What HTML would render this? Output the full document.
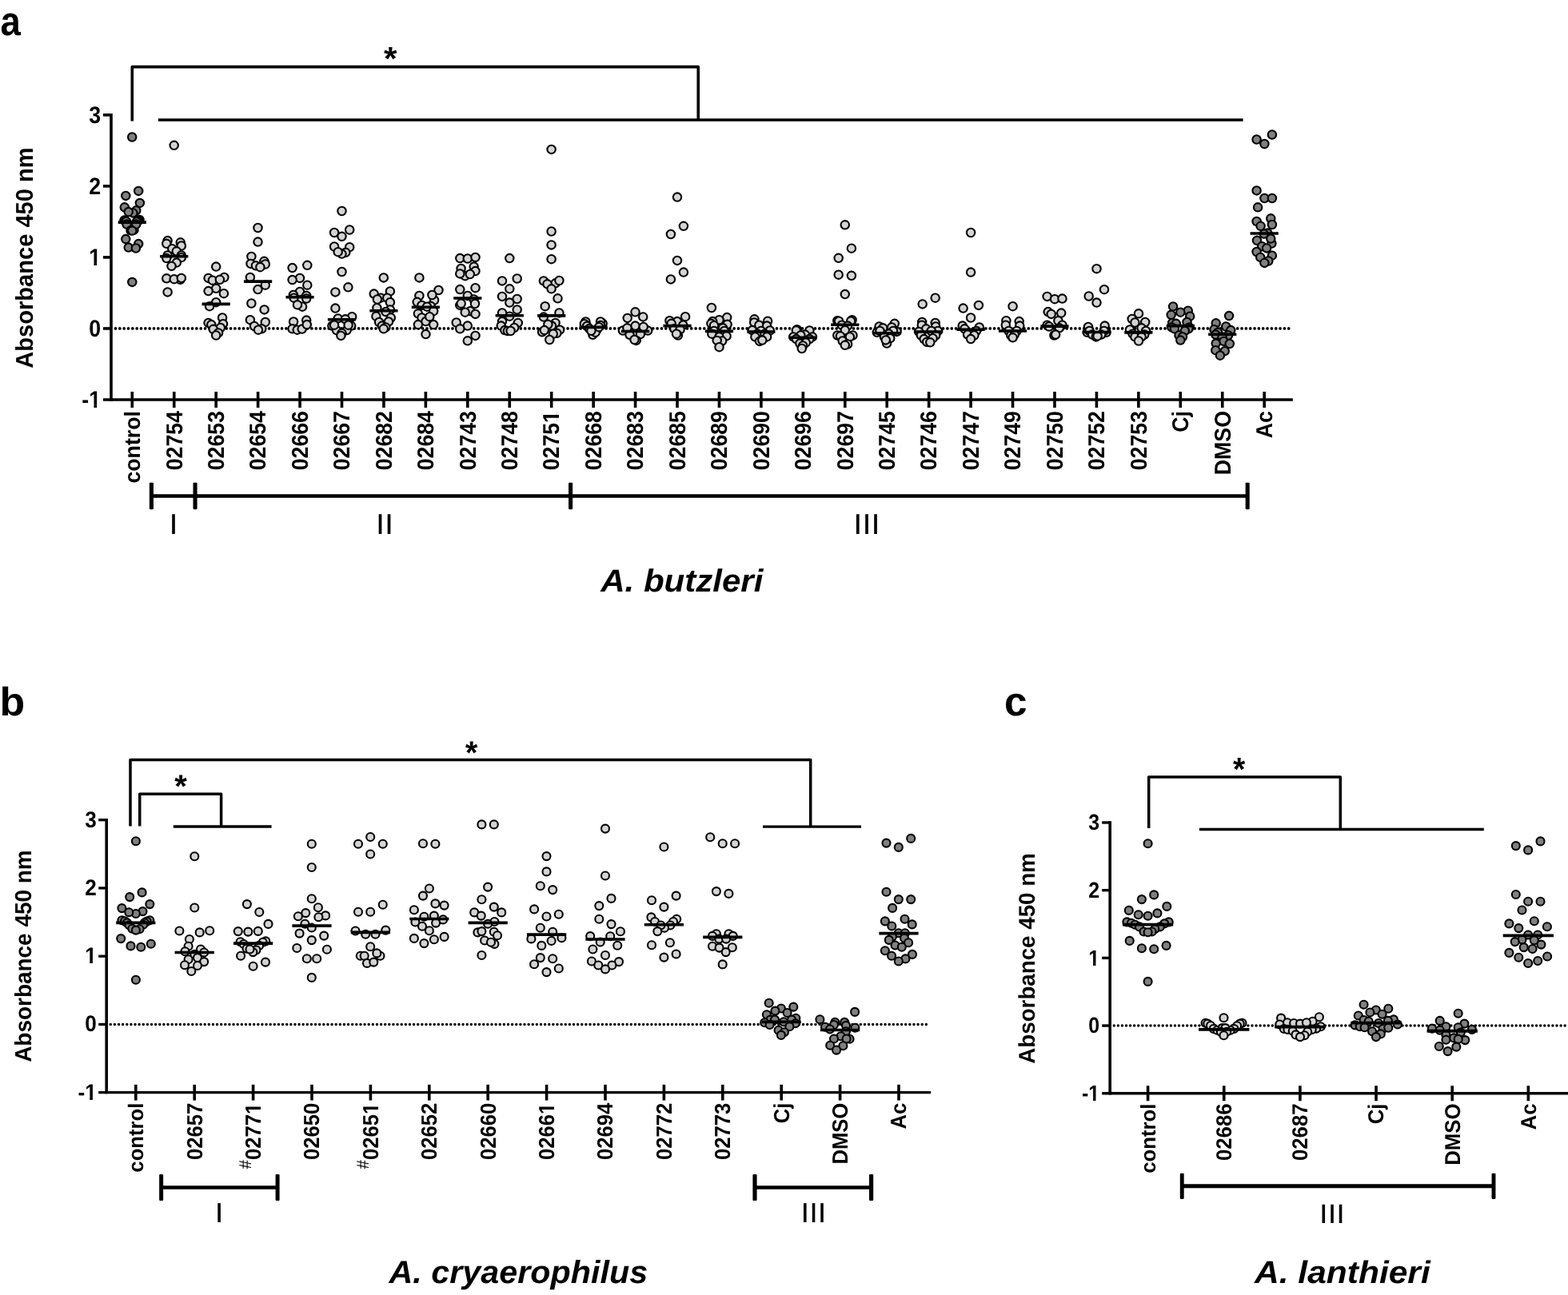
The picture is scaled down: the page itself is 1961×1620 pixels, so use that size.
<!DOCTYPE html>
<html lang="en">
<head>
<meta charset="utf-8">
<title>Absorbance 450 nm scatter plots</title>
<style>
html,body{margin:0;padding:0;background:#fff;}
svg{display:block;}
text{font-kerning:none;text-rendering:geometricPrecision;white-space:pre;}
</style>
</head>
<body>
<svg xmlns="http://www.w3.org/2000/svg" width="1961" height="1620" viewBox="0 0 1961 1620" font-family="'Liberation Sans', Arial, Helvetica, sans-serif" font-weight="bold" fill="#000" stroke="none">
<rect x="0" y="0" width="1961" height="1620" fill="#fff"/>
<g id="panel-a">
<g stroke="#000">
<line x1="144.5" y1="410.95" x2="1612" y2="410.95" stroke-width="3.75" stroke-linecap="round" stroke-dasharray="0 5.3354"/>
<line x1="139" y1="142" x2="139" y2="501.8" stroke-width="3.6"/>
<line x1="129" y1="500" x2="1616.85" y2="500" stroke-width="3.6"/>
<line x1="129" y1="143.8" x2="139" y2="143.8" stroke-width="3.6"/>
<line x1="129" y1="232.85" x2="139" y2="232.85" stroke-width="3.6"/>
<line x1="129" y1="321.9" x2="139" y2="321.9" stroke-width="3.6"/>
<line x1="129" y1="410.95" x2="139" y2="410.95" stroke-width="3.6"/>
<line x1="165.3" y1="490" x2="165.3" y2="510" stroke-width="3.6"/>
<line x1="217.74" y1="490" x2="217.74" y2="510" stroke-width="3.6"/>
<line x1="270.18" y1="490" x2="270.18" y2="510" stroke-width="3.6"/>
<line x1="322.62" y1="490" x2="322.62" y2="510" stroke-width="3.6"/>
<line x1="375.06" y1="490" x2="375.06" y2="510" stroke-width="3.6"/>
<line x1="427.5" y1="490" x2="427.5" y2="510" stroke-width="3.6"/>
<line x1="479.94" y1="490" x2="479.94" y2="510" stroke-width="3.6"/>
<line x1="532.38" y1="490" x2="532.38" y2="510" stroke-width="3.6"/>
<line x1="584.82" y1="490" x2="584.82" y2="510" stroke-width="3.6"/>
<line x1="637.26" y1="490" x2="637.26" y2="510" stroke-width="3.6"/>
<line x1="689.7" y1="490" x2="689.7" y2="510" stroke-width="3.6"/>
<line x1="742.14" y1="490" x2="742.14" y2="510" stroke-width="3.6"/>
<line x1="794.58" y1="490" x2="794.58" y2="510" stroke-width="3.6"/>
<line x1="847.02" y1="490" x2="847.02" y2="510" stroke-width="3.6"/>
<line x1="899.46" y1="490" x2="899.46" y2="510" stroke-width="3.6"/>
<line x1="951.9" y1="490" x2="951.9" y2="510" stroke-width="3.6"/>
<line x1="1004.34" y1="490" x2="1004.34" y2="510" stroke-width="3.6"/>
<line x1="1056.78" y1="490" x2="1056.78" y2="510" stroke-width="3.6"/>
<line x1="1109.22" y1="490" x2="1109.22" y2="510" stroke-width="3.6"/>
<line x1="1161.66" y1="490" x2="1161.66" y2="510" stroke-width="3.6"/>
<line x1="1214.1" y1="490" x2="1214.1" y2="510" stroke-width="3.6"/>
<line x1="1266.54" y1="490" x2="1266.54" y2="510" stroke-width="3.6"/>
<line x1="1318.98" y1="490" x2="1318.98" y2="510" stroke-width="3.6"/>
<line x1="1371.42" y1="490" x2="1371.42" y2="510" stroke-width="3.6"/>
<line x1="1423.86" y1="490" x2="1423.86" y2="510" stroke-width="3.6"/>
<line x1="1476.3" y1="490" x2="1476.3" y2="510" stroke-width="3.6"/>
<line x1="1528.74" y1="490" x2="1528.74" y2="510" stroke-width="3.6"/>
<line x1="1581.18" y1="490" x2="1581.18" y2="510" stroke-width="3.6"/>
</g>
<g stroke="#000" stroke-width="2.1">
<g fill="#808080"><circle cx="165.2" cy="171.5" r="5.2"/><circle cx="173.2" cy="238.9" r="5.2"/><circle cx="157.3" cy="244.9" r="5.2"/><circle cx="174.9" cy="253.9" r="5.2"/><circle cx="155.8" cy="259.3" r="5.2"/><circle cx="170.3" cy="263.3" r="5.2"/><circle cx="166.4" cy="266.4" r="5.2"/><circle cx="160.7" cy="265.1" r="5.2"/><circle cx="174.5" cy="275.0" r="5.2"/><circle cx="173.4" cy="275.6" r="5.2"/><circle cx="172.1" cy="276.1" r="5.2"/><circle cx="155.4" cy="275.6" r="5.2"/><circle cx="156.7" cy="276.1" r="5.2"/><circle cx="158.0" cy="276.9" r="5.2"/><circle cx="158.5" cy="280.5" r="5.2"/><circle cx="167.5" cy="287.7" r="5.2"/><circle cx="163.5" cy="288.3" r="5.2"/><circle cx="170.8" cy="277.4" r="5.2"/><circle cx="170.3" cy="280.5" r="5.2"/><circle cx="165.3" cy="288.6" r="5.2"/><circle cx="157.3" cy="299.1" r="5.2"/><circle cx="173.2" cy="305.1" r="5.2"/><circle cx="160.7" cy="309.6" r="5.2"/><circle cx="169.9" cy="310.5" r="5.2"/><circle cx="165.3" cy="352.9" r="5.2"/></g>
<g fill="#d4d4d4"><circle cx="217.7" cy="181.8" r="5.2"/><circle cx="209.6" cy="301.1" r="5.2"/><circle cx="225.7" cy="303.3" r="5.2"/><circle cx="208.3" cy="304.8" r="5.2"/><circle cx="226.8" cy="307.5" r="5.2"/><circle cx="215.3" cy="311.2" r="5.2"/><circle cx="220.8" cy="314.3" r="5.2"/><circle cx="209.6" cy="319.5" r="5.2"/><circle cx="226.8" cy="319.5" r="5.2"/><circle cx="208.3" cy="323.1" r="5.2"/><circle cx="226.8" cy="322.2" r="5.2"/><circle cx="220.8" cy="328.6" r="5.2"/><circle cx="214.5" cy="332.9" r="5.2"/><circle cx="208.3" cy="348.3" r="5.2"/><circle cx="225.4" cy="349.8" r="5.2"/><circle cx="217.7" cy="349.2" r="5.2"/><circle cx="226.8" cy="347.9" r="5.2"/><circle cx="209.6" cy="365.4" r="5.2"/></g>
<g fill="#d4d4d4"><circle cx="270.2" cy="333.6" r="5.2"/><circle cx="280.4" cy="347.0" r="5.2"/><circle cx="260.6" cy="347.9" r="5.2"/><circle cx="265.8" cy="350.7" r="5.2"/><circle cx="274.9" cy="349.8" r="5.2"/><circle cx="270.2" cy="360.8" r="5.2"/><circle cx="260.6" cy="364.1" r="5.2"/><circle cx="279.9" cy="367.2" r="5.2"/><circle cx="270.2" cy="378.2" r="5.2"/><circle cx="262.1" cy="383.2" r="5.2"/><circle cx="278.1" cy="397.5" r="5.2"/><circle cx="260.6" cy="403.9" r="5.2"/><circle cx="279.0" cy="405.2" r="5.2"/><circle cx="264.3" cy="406.1" r="5.2"/><circle cx="275.8" cy="410.0" r="5.2"/><circle cx="266.7" cy="411.8" r="5.2"/><circle cx="273.1" cy="416.4" r="5.2"/><circle cx="270.2" cy="419.5" r="5.2"/></g>
<g fill="#d4d4d4"><circle cx="322.5" cy="285.0" r="5.2"/><circle cx="322.5" cy="302.6" r="5.2"/><circle cx="314.4" cy="320.9" r="5.2"/><circle cx="330.4" cy="326.8" r="5.2"/><circle cx="313.5" cy="329.9" r="5.2"/><circle cx="331.8" cy="330.5" r="5.2"/><circle cx="319.9" cy="332.3" r="5.2"/><circle cx="325.4" cy="334.2" r="5.2"/><circle cx="312.9" cy="347.0" r="5.2"/><circle cx="331.8" cy="356.7" r="5.2"/><circle cx="322.5" cy="362.1" r="5.2"/><circle cx="314.4" cy="379.5" r="5.2"/><circle cx="330.6" cy="387.4" r="5.2"/><circle cx="312.9" cy="400.2" r="5.2"/><circle cx="331.8" cy="403.0" r="5.2"/><circle cx="318.1" cy="408.0" r="5.2"/><circle cx="327.3" cy="411.3" r="5.2"/><circle cx="323.0" cy="412.7" r="5.2"/></g>
<g fill="#d4d4d4"><circle cx="384.3" cy="331.8" r="5.2"/><circle cx="365.6" cy="335.1" r="5.2"/><circle cx="375.0" cy="347.9" r="5.2"/><circle cx="365.6" cy="350.1" r="5.2"/><circle cx="384.3" cy="356.7" r="5.2"/><circle cx="375.0" cy="365.0" r="5.2"/><circle cx="366.9" cy="369.0" r="5.2"/><circle cx="383.2" cy="370.0" r="5.2"/><circle cx="383.2" cy="373.6" r="5.2"/><circle cx="367.6" cy="372.7" r="5.2"/><circle cx="378.1" cy="383.7" r="5.2"/><circle cx="372.0" cy="381.3" r="5.2"/><circle cx="383.2" cy="400.6" r="5.2"/><circle cx="367.1" cy="402.4" r="5.2"/><circle cx="365.6" cy="411.3" r="5.2"/><circle cx="371.7" cy="412.7" r="5.2"/><circle cx="377.7" cy="411.6" r="5.2"/><circle cx="383.8" cy="406.1" r="5.2"/></g>
<g fill="#d4d4d4"><circle cx="427.5" cy="264.0" r="5.2"/><circle cx="437.2" cy="287.5" r="5.2"/><circle cx="418.1" cy="291.0" r="5.2"/><circle cx="427.5" cy="295.8" r="5.2"/><circle cx="418.1" cy="308.5" r="5.2"/><circle cx="437.2" cy="309.2" r="5.2"/><circle cx="432.3" cy="315.8" r="5.2"/><circle cx="427.5" cy="317.6" r="5.2"/><circle cx="422.7" cy="315.2" r="5.2"/><circle cx="427.5" cy="340.0" r="5.2"/><circle cx="435.4" cy="359.3" r="5.2"/><circle cx="419.4" cy="365.4" r="5.2"/><circle cx="419.4" cy="385.6" r="5.2"/><circle cx="440.2" cy="396.2" r="5.2"/><circle cx="422.7" cy="398.4" r="5.2"/><circle cx="431.9" cy="399.3" r="5.2"/><circle cx="415.4" cy="407.6" r="5.2"/><circle cx="439.2" cy="407.6" r="5.2"/><circle cx="420.9" cy="413.1" r="5.2"/><circle cx="433.7" cy="413.1" r="5.2"/><circle cx="427.5" cy="416.8" r="5.2"/><circle cx="418.1" cy="406.7" r="5.2"/><circle cx="435.6" cy="406.7" r="5.2"/><circle cx="426.4" cy="419.9" r="5.2"/></g>
<g fill="#d4d4d4"><circle cx="479.8" cy="347.4" r="5.2"/><circle cx="487.9" cy="364.4" r="5.2"/><circle cx="467.7" cy="367.6" r="5.2"/><circle cx="476.0" cy="372.7" r="5.2"/><circle cx="484.2" cy="372.7" r="5.2"/><circle cx="471.9" cy="374.5" r="5.2"/><circle cx="487.9" cy="378.2" r="5.2"/><circle cx="471.4" cy="385.2" r="5.2"/><circle cx="487.9" cy="387.4" r="5.2"/><circle cx="482.4" cy="390.1" r="5.2"/><circle cx="470.4" cy="395.7" r="5.2"/><circle cx="488.8" cy="397.5" r="5.2"/><circle cx="474.1" cy="403.0" r="5.2"/><circle cx="486.0" cy="402.4" r="5.2"/><circle cx="477.8" cy="407.6" r="5.2"/><circle cx="482.4" cy="409.4" r="5.2"/><circle cx="479.8" cy="411.3" r="5.2"/></g>
<g fill="#d4d4d4"><circle cx="524.4" cy="347.4" r="5.2"/><circle cx="548.5" cy="363.0" r="5.2"/><circle cx="524.4" cy="370.0" r="5.2"/><circle cx="543.1" cy="375.5" r="5.2"/><circle cx="540.4" cy="369.0" r="5.2"/><circle cx="521.7" cy="377.8" r="5.2"/><circle cx="527.5" cy="381.9" r="5.2"/><circle cx="538.6" cy="382.8" r="5.2"/><circle cx="534.0" cy="383.7" r="5.2"/><circle cx="542.2" cy="389.2" r="5.2"/><circle cx="522.9" cy="392.3" r="5.2"/><circle cx="527.5" cy="397.5" r="5.2"/><circle cx="532.5" cy="402.1" r="5.2"/><circle cx="537.3" cy="396.2" r="5.2"/><circle cx="522.9" cy="406.1" r="5.2"/><circle cx="542.2" cy="406.1" r="5.2"/><circle cx="532.5" cy="418.1" r="5.2"/></g>
<g fill="#d4d4d4"><circle cx="575.3" cy="323.1" r="5.2"/><circle cx="584.8" cy="323.5" r="5.2"/><circle cx="594.5" cy="321.9" r="5.2"/><circle cx="592.7" cy="333.6" r="5.2"/><circle cx="576.6" cy="336.0" r="5.2"/><circle cx="594.5" cy="339.1" r="5.2"/><circle cx="581.7" cy="345.2" r="5.2"/><circle cx="575.3" cy="342.4" r="5.2"/><circle cx="587.8" cy="343.0" r="5.2"/><circle cx="575.3" cy="362.1" r="5.2"/><circle cx="594.5" cy="360.2" r="5.2"/><circle cx="584.8" cy="370.0" r="5.2"/><circle cx="592.7" cy="374.5" r="5.2"/><circle cx="575.3" cy="381.9" r="5.2"/><circle cx="576.7" cy="379.7" r="5.2"/><circle cx="594.0" cy="380.0" r="5.2"/><circle cx="588.1" cy="389.2" r="5.2"/><circle cx="581.7" cy="390.7" r="5.2"/><circle cx="594.5" cy="392.9" r="5.2"/><circle cx="570.7" cy="403.5" r="5.2"/><circle cx="584.8" cy="407.6" r="5.2"/><circle cx="575.3" cy="411.3" r="5.2"/><circle cx="594.5" cy="419.9" r="5.2"/><circle cx="584.8" cy="426.3" r="5.2"/></g>
<g fill="#d4d4d4"><circle cx="637.3" cy="323.1" r="5.2"/><circle cx="628.0" cy="351.4" r="5.2"/><circle cx="646.7" cy="348.5" r="5.2"/><circle cx="637.3" cy="361.3" r="5.2"/><circle cx="628.0" cy="370.9" r="5.2"/><circle cx="646.7" cy="374.0" r="5.2"/><circle cx="637.3" cy="378.6" r="5.2"/><circle cx="646.7" cy="387.4" r="5.2"/><circle cx="628.0" cy="391.4" r="5.2"/><circle cx="637.3" cy="395.7" r="5.2"/><circle cx="628.0" cy="402.1" r="5.2"/><circle cx="647.8" cy="403.9" r="5.2"/><circle cx="626.7" cy="407.6" r="5.2"/><circle cx="643.2" cy="410.0" r="5.2"/><circle cx="631.3" cy="413.1" r="5.2"/><circle cx="634.9" cy="414.0" r="5.2"/><circle cx="638.6" cy="414.0" r="5.2"/></g>
<g fill="#d4d4d4"><circle cx="689.6" cy="186.9" r="5.2"/><circle cx="689.6" cy="289.5" r="5.2"/><circle cx="689.6" cy="306.4" r="5.2"/><circle cx="689.6" cy="324.2" r="5.2"/><circle cx="679.9" cy="351.4" r="5.2"/><circle cx="694.6" cy="354.3" r="5.2"/><circle cx="699.4" cy="351.0" r="5.2"/><circle cx="684.5" cy="355.3" r="5.2"/><circle cx="689.6" cy="361.3" r="5.2"/><circle cx="697.5" cy="373.3" r="5.2"/><circle cx="681.7" cy="383.2" r="5.2"/><circle cx="699.4" cy="391.4" r="5.2"/><circle cx="679.9" cy="396.6" r="5.2"/><circle cx="694.6" cy="403.9" r="5.2"/><circle cx="690.0" cy="407.6" r="5.2"/><circle cx="685.4" cy="405.8" r="5.2"/><circle cx="678.1" cy="415.3" r="5.2"/><circle cx="680.8" cy="413.1" r="5.2"/><circle cx="700.1" cy="412.7" r="5.2"/><circle cx="696.4" cy="416.8" r="5.2"/><circle cx="691.8" cy="417.7" r="5.2"/><circle cx="687.3" cy="425.0" r="5.2"/></g>
<g fill="#d4d4d4"><circle cx="732.4" cy="402.4" r="5.2"/><circle cx="753.7" cy="404.6" r="5.2"/><circle cx="751.0" cy="402.4" r="5.2"/><circle cx="730.8" cy="405.2" r="5.2"/><circle cx="734.1" cy="408.0" r="5.2"/><circle cx="751.0" cy="407.0" r="5.2"/><circle cx="737.0" cy="411.1" r="5.2"/><circle cx="746.9" cy="412.0" r="5.2"/><circle cx="741.4" cy="418.8" r="5.2"/><circle cx="744.7" cy="415.8" r="5.2"/><circle cx="749.1" cy="409.2" r="5.2"/><circle cx="739.4" cy="413.8" r="5.2"/></g>
<g fill="#d4d4d4"><circle cx="778.9" cy="413.6" r="5.2"/><circle cx="810.2" cy="413.6" r="5.2"/><circle cx="787.5" cy="418.8" r="5.2"/><circle cx="800.9" cy="418.1" r="5.2"/><circle cx="795.7" cy="425.9" r="5.2"/><circle cx="793.5" cy="425.0" r="5.2"/><circle cx="794.5" cy="407.6" r="5.2"/><circle cx="784.4" cy="410.3" r="5.2"/><circle cx="804.7" cy="408.9" r="5.2"/><circle cx="784.7" cy="397.9" r="5.2"/><circle cx="804.2" cy="396.4" r="5.2"/><circle cx="794.5" cy="390.3" r="5.2"/></g>
<g fill="#d4d4d4"><circle cx="847.0" cy="246.6" r="5.2"/><circle cx="854.9" cy="282.8" r="5.2"/><circle cx="838.9" cy="293.0" r="5.2"/><circle cx="847.0" cy="325.9" r="5.2"/><circle cx="854.9" cy="340.6" r="5.2"/><circle cx="838.9" cy="349.4" r="5.2"/><circle cx="857.1" cy="396.2" r="5.2"/><circle cx="837.4" cy="401.2" r="5.2"/><circle cx="847.0" cy="402.1" r="5.2"/><circle cx="839.6" cy="404.8" r="5.2"/><circle cx="854.3" cy="406.7" r="5.2"/><circle cx="843.3" cy="411.3" r="5.2"/><circle cx="850.6" cy="412.2" r="5.2"/><circle cx="847.9" cy="419.5" r="5.2"/><circle cx="846.0" cy="417.7" r="5.2"/></g>
<g fill="#d4d4d4"><circle cx="889.9" cy="385.0" r="5.2"/><circle cx="909.2" cy="397.1" r="5.2"/><circle cx="899.5" cy="400.2" r="5.2"/><circle cx="891.2" cy="402.1" r="5.2"/><circle cx="889.4" cy="404.8" r="5.2"/><circle cx="909.6" cy="405.8" r="5.2"/><circle cx="893.0" cy="407.2" r="5.2"/><circle cx="904.1" cy="410.3" r="5.2"/><circle cx="893.0" cy="414.0" r="5.2"/><circle cx="905.9" cy="414.0" r="5.2"/><circle cx="890.3" cy="417.7" r="5.2"/><circle cx="908.6" cy="420.4" r="5.2"/><circle cx="899.5" cy="421.4" r="5.2"/><circle cx="903.1" cy="426.5" r="5.2"/><circle cx="896.7" cy="425.9" r="5.2"/><circle cx="899.5" cy="434.2" r="5.2"/></g>
<g fill="#d4d4d4"><circle cx="943.5" cy="399.3" r="5.2"/><circle cx="960.1" cy="401.7" r="5.2"/><circle cx="943.2" cy="403.4" r="5.2"/><circle cx="949.4" cy="406.7" r="5.2"/><circle cx="959.1" cy="407.6" r="5.2"/><circle cx="940.8" cy="413.1" r="5.2"/><circle cx="962.8" cy="413.5" r="5.2"/><circle cx="951.8" cy="414.0" r="5.2"/><circle cx="947.2" cy="417.7" r="5.2"/><circle cx="956.4" cy="417.7" r="5.2"/><circle cx="944.4" cy="421.4" r="5.2"/><circle cx="959.1" cy="421.4" r="5.2"/><circle cx="950.0" cy="426.9" r="5.2"/><circle cx="953.3" cy="425.6" r="5.2"/></g>
<g fill="#d4d4d4"><circle cx="996.8" cy="412.2" r="5.2"/><circle cx="995.8" cy="413.5" r="5.2"/><circle cx="1012.4" cy="413.5" r="5.2"/><circle cx="1006.9" cy="418.6" r="5.2"/><circle cx="1001.4" cy="419.5" r="5.2"/><circle cx="992.2" cy="421.4" r="5.2"/><circle cx="1016.0" cy="421.4" r="5.2"/><circle cx="995.8" cy="424.1" r="5.2"/><circle cx="1012.4" cy="424.1" r="5.2"/><circle cx="1000.4" cy="429.6" r="5.2"/><circle cx="1007.8" cy="428.7" r="5.2"/><circle cx="1004.1" cy="432.4" r="5.2"/><circle cx="1002.8" cy="436.0" r="5.2"/></g>
<g fill="#d4d4d4"><circle cx="1056.8" cy="281.3" r="5.2"/><circle cx="1064.9" cy="310.7" r="5.2"/><circle cx="1048.7" cy="322.8" r="5.2"/><circle cx="1048.7" cy="343.7" r="5.2"/><circle cx="1064.9" cy="344.8" r="5.2"/><circle cx="1056.8" cy="368.1" r="5.2"/><circle cx="1047.3" cy="401.2" r="5.2"/><circle cx="1065.6" cy="400.2" r="5.2"/><circle cx="1049.1" cy="401.7" r="5.2"/><circle cx="1064.1" cy="401.7" r="5.2"/><circle cx="1052.8" cy="406.7" r="5.2"/><circle cx="1060.1" cy="407.6" r="5.2"/><circle cx="1056.8" cy="413.1" r="5.2"/><circle cx="1047.3" cy="419.5" r="5.2"/><circle cx="1066.5" cy="419.5" r="5.2"/><circle cx="1050.9" cy="420.4" r="5.2"/><circle cx="1062.9" cy="421.4" r="5.2"/><circle cx="1053.7" cy="426.5" r="5.2"/><circle cx="1060.1" cy="430.5" r="5.2"/><circle cx="1056.8" cy="431.8" r="5.2"/></g>
<g fill="#d4d4d4"><circle cx="1118.8" cy="404.8" r="5.2"/><circle cx="1099.6" cy="408.5" r="5.2"/><circle cx="1115.2" cy="409.4" r="5.2"/><circle cx="1104.2" cy="410.3" r="5.2"/><circle cx="1096.8" cy="415.8" r="5.2"/><circle cx="1121.6" cy="414.9" r="5.2"/><circle cx="1100.5" cy="414.0" r="5.2"/><circle cx="1117.0" cy="414.0" r="5.2"/><circle cx="1111.5" cy="417.7" r="5.2"/><circle cx="1106.0" cy="421.4" r="5.2"/><circle cx="1113.3" cy="423.2" r="5.2"/><circle cx="1109.1" cy="429.6" r="5.2"/><circle cx="1107.8" cy="425.4" r="5.2"/></g>
<g fill="#d4d4d4"><circle cx="1169.7" cy="372.7" r="5.2"/><circle cx="1153.7" cy="380.4" r="5.2"/><circle cx="1153.2" cy="403.0" r="5.2"/><circle cx="1169.7" cy="403.9" r="5.2"/><circle cx="1152.8" cy="406.7" r="5.2"/><circle cx="1170.2" cy="408.5" r="5.2"/><circle cx="1158.3" cy="411.3" r="5.2"/><circle cx="1149.1" cy="414.9" r="5.2"/><circle cx="1173.0" cy="414.0" r="5.2"/><circle cx="1164.7" cy="414.0" r="5.2"/><circle cx="1151.9" cy="419.5" r="5.2"/><circle cx="1170.2" cy="419.5" r="5.2"/><circle cx="1155.6" cy="424.1" r="5.2"/><circle cx="1166.6" cy="423.2" r="5.2"/><circle cx="1159.2" cy="427.8" r="5.2"/><circle cx="1163.3" cy="428.3" r="5.2"/></g>
<g fill="#d4d4d4"><circle cx="1214.1" cy="291.0" r="5.2"/><circle cx="1214.1" cy="340.6" r="5.2"/><circle cx="1223.9" cy="381.9" r="5.2"/><circle cx="1204.6" cy="385.6" r="5.2"/><circle cx="1214.1" cy="397.5" r="5.2"/><circle cx="1203.7" cy="407.6" r="5.2"/><circle cx="1224.8" cy="409.4" r="5.2"/><circle cx="1206.4" cy="411.3" r="5.2"/><circle cx="1221.1" cy="414.0" r="5.2"/><circle cx="1210.1" cy="418.6" r="5.2"/><circle cx="1218.4" cy="419.5" r="5.2"/><circle cx="1214.1" cy="424.1" r="5.2"/></g>
<g fill="#d4d4d4"><circle cx="1266.6" cy="383.2" r="5.2"/><circle cx="1258.4" cy="401.2" r="5.2"/><circle cx="1274.7" cy="402.1" r="5.2"/><circle cx="1257.8" cy="406.7" r="5.2"/><circle cx="1275.3" cy="407.6" r="5.2"/><circle cx="1261.5" cy="414.0" r="5.2"/><circle cx="1271.6" cy="414.0" r="5.2"/><circle cx="1264.3" cy="419.5" r="5.2"/><circle cx="1268.8" cy="418.6" r="5.2"/><circle cx="1266.6" cy="422.3" r="5.2"/></g>
<g fill="#d4d4d4"><circle cx="1309.6" cy="370.9" r="5.2"/><circle cx="1319.1" cy="374.2" r="5.2"/><circle cx="1328.5" cy="373.6" r="5.2"/><circle cx="1310.7" cy="390.1" r="5.2"/><circle cx="1327.2" cy="391.6" r="5.2"/><circle cx="1314.7" cy="392.9" r="5.2"/><circle cx="1323.4" cy="401.2" r="5.2"/><circle cx="1309.6" cy="406.7" r="5.2"/><circle cx="1328.5" cy="406.7" r="5.2"/><circle cx="1312.0" cy="408.5" r="5.2"/><circle cx="1324.8" cy="410.3" r="5.2"/><circle cx="1318.4" cy="419.5" r="5.2"/><circle cx="1320.2" cy="418.6" r="5.2"/></g>
<g fill="#d4d4d4"><circle cx="1371.5" cy="336.2" r="5.2"/><circle cx="1381.0" cy="362.2" r="5.2"/><circle cx="1361.7" cy="370.5" r="5.2"/><circle cx="1371.5" cy="378.6" r="5.2"/><circle cx="1361.0" cy="408.9" r="5.2"/><circle cx="1381.7" cy="407.6" r="5.2"/><circle cx="1359.7" cy="415.8" r="5.2"/><circle cx="1383.6" cy="415.8" r="5.2"/><circle cx="1362.5" cy="414.0" r="5.2"/><circle cx="1380.8" cy="414.0" r="5.2"/><circle cx="1366.1" cy="418.6" r="5.2"/><circle cx="1377.2" cy="418.6" r="5.2"/><circle cx="1370.7" cy="421.4" r="5.2"/><circle cx="1372.6" cy="420.4" r="5.2"/></g>
<g fill="#d4d4d4"><circle cx="1424.0" cy="392.3" r="5.2"/><circle cx="1415.7" cy="399.0" r="5.2"/><circle cx="1432.2" cy="403.0" r="5.2"/><circle cx="1419.4" cy="403.5" r="5.2"/><circle cx="1413.0" cy="412.5" r="5.2"/><circle cx="1427.6" cy="410.3" r="5.2"/><circle cx="1433.1" cy="414.0" r="5.2"/><circle cx="1416.6" cy="417.7" r="5.2"/><circle cx="1431.3" cy="418.6" r="5.2"/><circle cx="1419.4" cy="421.4" r="5.2"/><circle cx="1427.6" cy="421.4" r="5.2"/><circle cx="1424.0" cy="426.5" r="5.2"/></g>
<g fill="#808080"><circle cx="1467.1" cy="383.4" r="5.2"/><circle cx="1485.8" cy="388.7" r="5.2"/><circle cx="1476.3" cy="390.7" r="5.2"/><circle cx="1464.7" cy="393.8" r="5.2"/><circle cx="1488.2" cy="395.7" r="5.2"/><circle cx="1484.5" cy="403.0" r="5.2"/><circle cx="1466.2" cy="403.9" r="5.2"/><circle cx="1470.8" cy="404.8" r="5.2"/><circle cx="1465.3" cy="409.4" r="5.2"/><circle cx="1487.3" cy="409.4" r="5.2"/><circle cx="1468.9" cy="411.3" r="5.2"/><circle cx="1486.4" cy="411.3" r="5.2"/><circle cx="1481.8" cy="414.0" r="5.2"/><circle cx="1474.5" cy="419.5" r="5.2"/><circle cx="1479.0" cy="421.4" r="5.2"/><circle cx="1476.3" cy="425.6" r="5.2"/></g>
<g fill="#808080"><circle cx="1537.1" cy="395.1" r="5.2"/><circle cx="1520.7" cy="404.3" r="5.2"/><circle cx="1533.2" cy="408.5" r="5.2"/><circle cx="1518.5" cy="412.2" r="5.2"/><circle cx="1539.3" cy="413.1" r="5.2"/><circle cx="1523.1" cy="415.8" r="5.2"/><circle cx="1520.3" cy="418.6" r="5.2"/><circle cx="1536.0" cy="419.5" r="5.2"/><circle cx="1528.6" cy="421.4" r="5.2"/><circle cx="1530.4" cy="426.9" r="5.2"/><circle cx="1520.7" cy="429.6" r="5.2"/><circle cx="1537.8" cy="430.0" r="5.2"/><circle cx="1520.3" cy="438.2" r="5.2"/><circle cx="1531.7" cy="439.2" r="5.2"/><circle cx="1525.9" cy="444.7" r="5.2"/></g>
<g fill="#808080"><circle cx="1590.9" cy="168.5" r="5.2"/><circle cx="1571.6" cy="174.5" r="5.2"/><circle cx="1581.4" cy="180.0" r="5.2"/><circle cx="1571.6" cy="238.4" r="5.2"/><circle cx="1581.4" cy="248.0" r="5.2"/><circle cx="1590.9" cy="248.0" r="5.2"/><circle cx="1573.1" cy="259.3" r="5.2"/><circle cx="1589.3" cy="273.3" r="5.2"/><circle cx="1571.6" cy="277.0" r="5.2"/><circle cx="1590.9" cy="281.0" r="5.2"/><circle cx="1576.6" cy="282.8" r="5.2"/><circle cx="1585.4" cy="291.6" r="5.2"/><circle cx="1580.8" cy="292.6" r="5.2"/><circle cx="1572.0" cy="300.8" r="5.2"/><circle cx="1590.4" cy="304.5" r="5.2"/><circle cx="1589.3" cy="298.6" r="5.2"/><circle cx="1578.1" cy="308.2" r="5.2"/><circle cx="1584.1" cy="310.4" r="5.2"/><circle cx="1571.6" cy="315.0" r="5.2"/><circle cx="1576.2" cy="321.9" r="5.2"/><circle cx="1590.9" cy="319.7" r="5.2"/><circle cx="1586.3" cy="326.5" r="5.2"/><circle cx="1581.4" cy="328.9" r="5.2"/></g>
</g>
<g stroke="#000">
<line x1="147.7" y1="278.16" x2="182.9" y2="278.16" stroke-width="3.6"/>
<line x1="200.14" y1="320.75" x2="235.34" y2="320.75" stroke-width="3.6"/>
<line x1="252.58" y1="380.42" x2="287.78" y2="380.42" stroke-width="3.6"/>
<line x1="305.02" y1="352.15" x2="340.22" y2="352.15" stroke-width="3.6"/>
<line x1="357.46" y1="371.79" x2="392.66" y2="371.79" stroke-width="3.6"/>
<line x1="409.9" y1="399.69" x2="445.1" y2="399.69" stroke-width="3.6"/>
<line x1="462.34" y1="388.68" x2="497.54" y2="388.68" stroke-width="3.6"/>
<line x1="514.78" y1="384.27" x2="549.98" y2="384.27" stroke-width="3.6"/>
<line x1="567.22" y1="373.07" x2="602.42" y2="373.07" stroke-width="3.6"/>
<line x1="619.66" y1="394.74" x2="654.86" y2="394.74" stroke-width="3.6"/>
<line x1="672.1" y1="394.92" x2="707.3" y2="394.92" stroke-width="3.6"/>
<line x1="724.54" y1="409.42" x2="759.74" y2="409.42" stroke-width="3.6"/>
<line x1="776.98" y1="414.56" x2="812.18" y2="414.56" stroke-width="3.6"/>
<line x1="829.42" y1="407.59" x2="864.62" y2="407.59" stroke-width="3.6"/>
<line x1="881.86" y1="414.38" x2="917.06" y2="414.38" stroke-width="3.6"/>
<line x1="934.3" y1="414.93" x2="969.5" y2="414.93" stroke-width="3.6"/>
<line x1="986.74" y1="422.27" x2="1021.94" y2="422.27" stroke-width="3.6"/>
<line x1="1039.18" y1="406.3" x2="1074.38" y2="406.3" stroke-width="3.6"/>
<line x1="1091.62" y1="416.77" x2="1126.82" y2="416.77" stroke-width="3.6"/>
<line x1="1144.06" y1="414.93" x2="1179.26" y2="414.93" stroke-width="3.6"/>
<line x1="1196.5" y1="412.18" x2="1231.7" y2="412.18" stroke-width="3.6"/>
<line x1="1248.94" y1="414.01" x2="1284.14" y2="414.01" stroke-width="3.6"/>
<line x1="1301.38" y1="408.14" x2="1336.58" y2="408.14" stroke-width="3.6"/>
<line x1="1353.82" y1="415.48" x2="1389.02" y2="415.48" stroke-width="3.6"/>
<line x1="1406.26" y1="415.85" x2="1441.46" y2="415.85" stroke-width="3.6"/>
<line x1="1458.7" y1="407.59" x2="1493.9" y2="407.59" stroke-width="3.6"/>
<line x1="1511.14" y1="418.23" x2="1546.34" y2="418.23" stroke-width="3.6"/>
<line x1="1563.58" y1="292.01" x2="1598.78" y2="292.01" stroke-width="3.6"/>
</g>
<g class="ytick">
<text transform="translate(126.07 153.56) scale(0.8954 1.0000)" font-size="29.88" text-anchor="end">3</text>
<text transform="translate(126.07 242.61) scale(0.8954 1.0000)" font-size="29.88" text-anchor="end">2</text>
<text transform="translate(126.07 331.66) scale(0.8954 1.0000)" font-size="29.88" text-anchor="end">1</text>
<path transform="translate(126.07 331.66) scale(0.8954 1.0000)" d="M-16.34 -3.40H-9.64v4.40H-16.34zM-5.54 -3.40H0.77v4.40H-5.54z" fill="#fff"/>
<text transform="translate(126.07 420.71) scale(0.8954 1.0000)" font-size="29.88" text-anchor="end">0</text>
<text transform="translate(126.07 509.76) scale(0.8954 1.0000)" font-size="29.88" text-anchor="end">-1</text>
<path transform="translate(126.07 509.76) scale(0.8954 1.0000)" d="M-16.34 -3.40H-9.64v4.40H-16.34zM-5.54 -3.40H0.77v4.40H-5.54z" fill="#fff"/>
</g>
<g class="xtick">
<text transform="translate(175.08 514.06) rotate(-90) scale(0.9637 1.0000)" font-size="27.73" text-anchor="end">control</text>
<text transform="translate(227.52 514.06) rotate(-90) scale(0.9319 1.0000)" font-size="28.67" text-anchor="end">02754</text>
<text transform="translate(279.96 514.06) rotate(-90) scale(0.9319 1.0000)" font-size="28.67" text-anchor="end">02653</text>
<text transform="translate(332.4 514.06) rotate(-90) scale(0.9319 1.0000)" font-size="28.67" text-anchor="end">02654</text>
<text transform="translate(384.84 514.06) rotate(-90) scale(0.9319 1.0000)" font-size="28.67" text-anchor="end">02666</text>
<text transform="translate(437.28 514.06) rotate(-90) scale(0.9319 1.0000)" font-size="28.67" text-anchor="end">02667</text>
<text transform="translate(489.72 514.06) rotate(-90) scale(0.9319 1.0000)" font-size="28.67" text-anchor="end">02682</text>
<text transform="translate(542.16 514.06) rotate(-90) scale(0.9319 1.0000)" font-size="28.67" text-anchor="end">02684</text>
<text transform="translate(594.6 514.06) rotate(-90) scale(0.9319 1.0000)" font-size="28.67" text-anchor="end">02743</text>
<text transform="translate(647.04 514.06) rotate(-90) scale(0.9319 1.0000)" font-size="28.67" text-anchor="end">02748</text>
<text transform="translate(699.48 514.06) rotate(-90) scale(0.9319 1.0000)" font-size="28.67" text-anchor="end">02751</text>
<path transform="translate(699.48 514.06) rotate(-90) scale(0.9319 1.0000)" d="M-15.74 -3.28H-9.25v4.28H-15.74zM-5.32 -3.28H0.80v4.28H-5.32z" fill="#fff"/>
<text transform="translate(751.92 514.06) rotate(-90) scale(0.9319 1.0000)" font-size="28.67" text-anchor="end">02668</text>
<text transform="translate(804.36 514.06) rotate(-90) scale(0.9319 1.0000)" font-size="28.67" text-anchor="end">02683</text>
<text transform="translate(856.8 514.06) rotate(-90) scale(0.9319 1.0000)" font-size="28.67" text-anchor="end">02685</text>
<text transform="translate(909.24 514.06) rotate(-90) scale(0.9319 1.0000)" font-size="28.67" text-anchor="end">02689</text>
<text transform="translate(961.68 514.06) rotate(-90) scale(0.9319 1.0000)" font-size="28.67" text-anchor="end">02690</text>
<text transform="translate(1014.12 514.06) rotate(-90) scale(0.9319 1.0000)" font-size="28.67" text-anchor="end">02696</text>
<text transform="translate(1066.56 514.06) rotate(-90) scale(0.9319 1.0000)" font-size="28.67" text-anchor="end">02697</text>
<text transform="translate(1119 514.06) rotate(-90) scale(0.9319 1.0000)" font-size="28.67" text-anchor="end">02745</text>
<text transform="translate(1171.44 514.06) rotate(-90) scale(0.9319 1.0000)" font-size="28.67" text-anchor="end">02746</text>
<text transform="translate(1223.88 514.06) rotate(-90) scale(0.9319 1.0000)" font-size="28.67" text-anchor="end">02747</text>
<text transform="translate(1276.32 514.06) rotate(-90) scale(0.9319 1.0000)" font-size="28.67" text-anchor="end">02749</text>
<text transform="translate(1328.76 514.06) rotate(-90) scale(0.9319 1.0000)" font-size="28.67" text-anchor="end">02750</text>
<text transform="translate(1381.2 514.06) rotate(-90) scale(0.9319 1.0000)" font-size="28.67" text-anchor="end">02752</text>
<text transform="translate(1433.64 514.06) rotate(-90) scale(0.9319 1.0000)" font-size="28.67" text-anchor="end">02753</text>
<text transform="translate(1486.08 514.06) rotate(-90) scale(0.9319 1.0000)" font-size="28.67" text-anchor="end">Cj</text>
<text transform="translate(1538.52 514.06) rotate(-90) scale(0.9319 1.0000)" font-size="28.67" text-anchor="end">DMSO</text>
<text transform="translate(1590.96 514.06) rotate(-90) scale(0.9319 1.0000)" font-size="28.67" text-anchor="end">Ac</text>
</g>
<text transform="translate(40.9 460.72) rotate(-90) scale(0.9579 1.0000)" font-size="30.37">Absorbance 450 nm</text>
</g>
<g id="panel-b">
<g stroke="#000">
<line x1="138.27" y1="1281.45" x2="1160" y2="1281.45" stroke-width="3.5" stroke-linecap="round" stroke-dasharray="0 5.126"/>
<line x1="133.2" y1="1024.05" x2="133.2" y2="1368.35" stroke-width="3.6"/>
<line x1="123.2" y1="1366.7" x2="1164.1" y2="1366.7" stroke-width="3.3"/>
<line x1="123.2" y1="1025.7" x2="133.2" y2="1025.7" stroke-width="3.3"/>
<line x1="123.2" y1="1110.95" x2="133.2" y2="1110.95" stroke-width="3.3"/>
<line x1="123.2" y1="1196.2" x2="133.2" y2="1196.2" stroke-width="3.3"/>
<line x1="123.2" y1="1281.45" x2="133.2" y2="1281.45" stroke-width="3.3"/>
<line x1="169.8" y1="1356.85" x2="169.8" y2="1376.55" stroke-width="3.6"/>
<line x1="243.2" y1="1356.85" x2="243.2" y2="1376.55" stroke-width="3.6"/>
<line x1="316.6" y1="1356.85" x2="316.6" y2="1376.55" stroke-width="3.6"/>
<line x1="390" y1="1356.85" x2="390" y2="1376.55" stroke-width="3.6"/>
<line x1="463.4" y1="1356.85" x2="463.4" y2="1376.55" stroke-width="3.6"/>
<line x1="536.8" y1="1356.85" x2="536.8" y2="1376.55" stroke-width="3.6"/>
<line x1="610.2" y1="1356.85" x2="610.2" y2="1376.55" stroke-width="3.6"/>
<line x1="683.6" y1="1356.85" x2="683.6" y2="1376.55" stroke-width="3.6"/>
<line x1="757" y1="1356.85" x2="757" y2="1376.55" stroke-width="3.6"/>
<line x1="830.4" y1="1356.85" x2="830.4" y2="1376.55" stroke-width="3.6"/>
<line x1="903.8" y1="1356.85" x2="903.8" y2="1376.55" stroke-width="3.6"/>
<line x1="977.2" y1="1356.85" x2="977.2" y2="1376.55" stroke-width="3.6"/>
<line x1="1050.6" y1="1356.85" x2="1050.6" y2="1376.55" stroke-width="3.6"/>
<line x1="1124" y1="1356.85" x2="1124" y2="1376.55" stroke-width="3.6"/>
</g>
<g stroke="#000" stroke-width="2.1">
<g fill="#808080"><circle cx="169.9" cy="1052.2" r="5.0"/><circle cx="177.6" cy="1116.4" r="5.0"/><circle cx="162.2" cy="1122.1" r="5.0"/><circle cx="187.3" cy="1131.1" r="5.0"/><circle cx="152.4" cy="1136.1" r="5.0"/><circle cx="178.5" cy="1140.1" r="5.0"/><circle cx="169.9" cy="1143.0" r="5.0"/><circle cx="161.3" cy="1141.2" r="5.0"/><circle cx="152.4" cy="1151.3" r="5.0"/><circle cx="187.3" cy="1151.3" r="5.0"/><circle cx="156.1" cy="1152.2" r="5.0"/><circle cx="183.6" cy="1152.6" r="5.0"/><circle cx="158.9" cy="1154.4" r="5.0"/><circle cx="180.9" cy="1154.4" r="5.0"/><circle cx="161.6" cy="1157.2" r="5.0"/><circle cx="179.1" cy="1156.8" r="5.0"/><circle cx="165.3" cy="1161.8" r="5.0"/><circle cx="174.5" cy="1162.3" r="5.0"/><circle cx="169.9" cy="1163.6" r="5.0"/><circle cx="151.2" cy="1174.1" r="5.0"/><circle cx="188.8" cy="1180.7" r="5.0"/><circle cx="163.5" cy="1183.4" r="5.0"/><circle cx="176.3" cy="1184.7" r="5.0"/><circle cx="169.9" cy="1225.7" r="5.0"/></g>
<g fill="#d4d4d4"><circle cx="243.3" cy="1071.3" r="5.0"/><circle cx="243.3" cy="1135.5" r="5.0"/><circle cx="224.4" cy="1164.5" r="5.0"/><circle cx="262.2" cy="1164.2" r="5.0"/><circle cx="249.7" cy="1166.4" r="5.0"/><circle cx="236.9" cy="1175.0" r="5.0"/><circle cx="235.6" cy="1183.8" r="5.0"/><circle cx="251.0" cy="1187.5" r="5.0"/><circle cx="231.4" cy="1190.2" r="5.0"/><circle cx="255.2" cy="1191.5" r="5.0"/><circle cx="243.3" cy="1193.9" r="5.0"/><circle cx="235.6" cy="1200.3" r="5.0"/><circle cx="247.0" cy="1198.1" r="5.0"/><circle cx="255.2" cy="1203.1" r="5.0"/><circle cx="231.0" cy="1207.3" r="5.0"/><circle cx="247.0" cy="1208.0" r="5.0"/><circle cx="239.3" cy="1215.0" r="5.0"/></g>
<g fill="#d4d4d4"><circle cx="308.9" cy="1131.1" r="5.0"/><circle cx="324.3" cy="1141.0" r="5.0"/><circle cx="335.5" cy="1155.9" r="5.0"/><circle cx="297.8" cy="1165.1" r="5.0"/><circle cx="310.3" cy="1165.6" r="5.0"/><circle cx="322.8" cy="1164.9" r="5.0"/><circle cx="300.6" cy="1178.3" r="5.0"/><circle cx="332.3" cy="1177.4" r="5.0"/><circle cx="328.7" cy="1178.8" r="5.0"/><circle cx="304.8" cy="1181.0" r="5.0"/><circle cx="324.1" cy="1182.9" r="5.0"/><circle cx="308.5" cy="1186.6" r="5.0"/><circle cx="320.4" cy="1188.4" r="5.0"/><circle cx="316.4" cy="1191.1" r="5.0"/><circle cx="312.5" cy="1187.5" r="5.0"/><circle cx="301.1" cy="1195.7" r="5.0"/><circle cx="332.0" cy="1203.6" r="5.0"/><circle cx="316.6" cy="1208.8" r="5.0"/></g>
<g fill="#d4d4d4"><circle cx="389.8" cy="1055.7" r="5.0"/><circle cx="389.8" cy="1085.0" r="5.0"/><circle cx="389.8" cy="1124.3" r="5.0"/><circle cx="397.9" cy="1135.3" r="5.0"/><circle cx="382.3" cy="1142.1" r="5.0"/><circle cx="372.9" cy="1146.3" r="5.0"/><circle cx="407.1" cy="1145.4" r="5.0"/><circle cx="398.4" cy="1147.3" r="5.0"/><circle cx="381.4" cy="1155.7" r="5.0"/><circle cx="389.8" cy="1160.5" r="5.0"/><circle cx="374.6" cy="1167.6" r="5.0"/><circle cx="405.2" cy="1170.6" r="5.0"/><circle cx="389.8" cy="1176.1" r="5.0"/><circle cx="371.3" cy="1186.0" r="5.0"/><circle cx="408.9" cy="1187.7" r="5.0"/><circle cx="383.8" cy="1199.2" r="5.0"/><circle cx="396.2" cy="1199.2" r="5.0"/><circle cx="389.8" cy="1222.9" r="5.0"/></g>
<g fill="#d4d4d4"><circle cx="463.2" cy="1047.0" r="5.0"/><circle cx="448.0" cy="1055.8" r="5.0"/><circle cx="478.8" cy="1055.8" r="5.0"/><circle cx="463.2" cy="1068.5" r="5.0"/><circle cx="478.8" cy="1131.8" r="5.0"/><circle cx="448.0" cy="1140.7" r="5.0"/><circle cx="463.2" cy="1140.7" r="5.0"/><circle cx="444.5" cy="1164.5" r="5.0"/><circle cx="482.3" cy="1163.6" r="5.0"/><circle cx="457.2" cy="1168.7" r="5.0"/><circle cx="469.5" cy="1168.7" r="5.0"/><circle cx="463.2" cy="1184.3" r="5.0"/><circle cx="450.8" cy="1195.7" r="5.0"/><circle cx="475.5" cy="1195.7" r="5.0"/><circle cx="455.7" cy="1195.7" r="5.0"/><circle cx="471.3" cy="1192.4" r="5.0"/><circle cx="459.0" cy="1204.9" r="5.0"/><circle cx="467.3" cy="1203.6" r="5.0"/></g>
<g fill="#d4d4d4"><circle cx="529.0" cy="1055.3" r="5.0"/><circle cx="544.4" cy="1055.7" r="5.0"/><circle cx="536.9" cy="1111.5" r="5.0"/><circle cx="529.0" cy="1120.6" r="5.0"/><circle cx="544.4" cy="1130.4" r="5.0"/><circle cx="555.6" cy="1132.6" r="5.0"/><circle cx="517.9" cy="1138.3" r="5.0"/><circle cx="530.4" cy="1146.7" r="5.0"/><circle cx="542.9" cy="1145.6" r="5.0"/><circle cx="554.1" cy="1150.4" r="5.0"/><circle cx="519.4" cy="1153.5" r="5.0"/><circle cx="545.1" cy="1154.6" r="5.0"/><circle cx="528.0" cy="1158.8" r="5.0"/><circle cx="536.9" cy="1164.3" r="5.0"/><circle cx="517.9" cy="1173.9" r="5.0"/><circle cx="555.6" cy="1171.9" r="5.0"/><circle cx="542.9" cy="1175.2" r="5.0"/><circle cx="530.4" cy="1180.1" r="5.0"/></g>
<g fill="#d4d4d4"><circle cx="602.4" cy="1031.4" r="5.0"/><circle cx="617.8" cy="1031.4" r="5.0"/><circle cx="610.1" cy="1109.6" r="5.0"/><circle cx="602.4" cy="1125.2" r="5.0"/><circle cx="617.8" cy="1134.6" r="5.0"/><circle cx="593.2" cy="1141.4" r="5.0"/><circle cx="627.2" cy="1141.4" r="5.0"/><circle cx="601.7" cy="1145.6" r="5.0"/><circle cx="618.4" cy="1153.0" r="5.0"/><circle cx="610.1" cy="1155.7" r="5.0"/><circle cx="597.4" cy="1166.4" r="5.0"/><circle cx="602.4" cy="1165.1" r="5.0"/><circle cx="617.8" cy="1165.8" r="5.0"/><circle cx="622.0" cy="1170.2" r="5.0"/><circle cx="606.1" cy="1176.5" r="5.0"/><circle cx="618.4" cy="1180.9" r="5.0"/><circle cx="614.0" cy="1178.8" r="5.0"/><circle cx="602.4" cy="1195.0" r="5.0"/></g>
<g fill="#d4d4d4"><circle cx="683.5" cy="1071.1" r="5.0"/><circle cx="683.5" cy="1090.4" r="5.0"/><circle cx="675.8" cy="1108.3" r="5.0"/><circle cx="691.2" cy="1113.1" r="5.0"/><circle cx="668.1" cy="1137.4" r="5.0"/><circle cx="698.8" cy="1143.8" r="5.0"/><circle cx="683.5" cy="1146.5" r="5.0"/><circle cx="675.8" cy="1160.8" r="5.0"/><circle cx="691.2" cy="1165.8" r="5.0"/><circle cx="664.4" cy="1174.4" r="5.0"/><circle cx="702.4" cy="1173.3" r="5.0"/><circle cx="689.6" cy="1177.0" r="5.0"/><circle cx="677.3" cy="1182.9" r="5.0"/><circle cx="675.8" cy="1198.1" r="5.0"/><circle cx="691.2" cy="1199.2" r="5.0"/><circle cx="668.1" cy="1206.2" r="5.0"/><circle cx="698.8" cy="1211.5" r="5.0"/><circle cx="683.5" cy="1216.1" r="5.0"/></g>
<g fill="#d4d4d4"><circle cx="757.0" cy="1036.6" r="5.0"/><circle cx="757.0" cy="1095.5" r="5.0"/><circle cx="764.5" cy="1123.9" r="5.0"/><circle cx="749.3" cy="1133.1" r="5.0"/><circle cx="749.3" cy="1149.7" r="5.0"/><circle cx="764.5" cy="1156.1" r="5.0"/><circle cx="775.9" cy="1165.3" r="5.0"/><circle cx="738.2" cy="1171.1" r="5.0"/><circle cx="763.2" cy="1171.3" r="5.0"/><circle cx="750.7" cy="1178.5" r="5.0"/><circle cx="772.2" cy="1182.7" r="5.0"/><circle cx="741.4" cy="1187.5" r="5.0"/><circle cx="757.0" cy="1195.0" r="5.0"/><circle cx="739.9" cy="1202.5" r="5.0"/><circle cx="774.0" cy="1203.1" r="5.0"/><circle cx="748.3" cy="1207.5" r="5.0"/><circle cx="765.4" cy="1207.5" r="5.0"/><circle cx="757.0" cy="1212.4" r="5.0"/></g>
<g fill="#d4d4d4"><circle cx="830.4" cy="1059.5" r="5.0"/><circle cx="845.6" cy="1120.6" r="5.0"/><circle cx="815.0" cy="1126.3" r="5.0"/><circle cx="830.4" cy="1134.6" r="5.0"/><circle cx="814.4" cy="1147.4" r="5.0"/><circle cx="819.0" cy="1153.0" r="5.0"/><circle cx="846.2" cy="1149.8" r="5.0"/><circle cx="842.0" cy="1153.0" r="5.0"/><circle cx="838.3" cy="1157.5" r="5.0"/><circle cx="831.0" cy="1160.8" r="5.0"/><circle cx="826.4" cy="1157.5" r="5.0"/><circle cx="822.3" cy="1165.1" r="5.0"/><circle cx="815.0" cy="1182.3" r="5.0"/><circle cx="837.9" cy="1179.2" r="5.0"/><circle cx="845.6" cy="1193.5" r="5.0"/><circle cx="830.4" cy="1197.6" r="5.0"/></g>
<g fill="#d4d4d4"><circle cx="888.2" cy="1047.2" r="5.0"/><circle cx="903.7" cy="1055.3" r="5.0"/><circle cx="919.1" cy="1055.3" r="5.0"/><circle cx="895.9" cy="1115.1" r="5.0"/><circle cx="911.4" cy="1117.9" r="5.0"/><circle cx="895.9" cy="1168.2" r="5.0"/><circle cx="911.4" cy="1168.2" r="5.0"/><circle cx="891.0" cy="1170.9" r="5.0"/><circle cx="916.7" cy="1170.9" r="5.0"/><circle cx="899.3" cy="1174.6" r="5.0"/><circle cx="908.1" cy="1174.6" r="5.0"/><circle cx="891.0" cy="1183.8" r="5.0"/><circle cx="915.8" cy="1185.3" r="5.0"/><circle cx="899.6" cy="1185.6" r="5.0"/><circle cx="907.7" cy="1191.1" r="5.0"/><circle cx="903.7" cy="1206.4" r="5.0"/></g>
<g fill="#808080"><circle cx="961.7" cy="1254.8" r="5.0"/><circle cx="992.3" cy="1259.6" r="5.0"/><circle cx="976.9" cy="1261.5" r="5.0"/><circle cx="969.4" cy="1264.6" r="5.0"/><circle cx="984.6" cy="1267.0" r="5.0"/><circle cx="958.9" cy="1269.2" r="5.0"/><circle cx="995.3" cy="1273.8" r="5.0"/><circle cx="963.5" cy="1275.6" r="5.0"/><circle cx="990.1" cy="1275.6" r="5.0"/><circle cx="969.0" cy="1275.6" r="5.0"/><circle cx="980.0" cy="1278.3" r="5.0"/><circle cx="956.2" cy="1279.3" r="5.0"/><circle cx="994.7" cy="1280.2" r="5.0"/><circle cx="962.6" cy="1282.0" r="5.0"/><circle cx="987.4" cy="1284.2" r="5.0"/><circle cx="973.6" cy="1288.8" r="5.0"/><circle cx="980.9" cy="1291.2" r="5.0"/><circle cx="976.9" cy="1294.9" r="5.0"/></g>
<g fill="#808080"><circle cx="1069.1" cy="1265.9" r="5.0"/><circle cx="1025.4" cy="1275.2" r="5.0"/><circle cx="1044.3" cy="1278.9" r="5.0"/><circle cx="1056.2" cy="1278.9" r="5.0"/><circle cx="1043.0" cy="1282.0" r="5.0"/><circle cx="1058.0" cy="1282.9" r="5.0"/><circle cx="1032.0" cy="1284.8" r="5.0"/><circle cx="1069.4" cy="1285.7" r="5.0"/><circle cx="1037.9" cy="1287.5" r="5.0"/><circle cx="1058.0" cy="1290.3" r="5.0"/><circle cx="1051.6" cy="1296.3" r="5.0"/><circle cx="1062.6" cy="1299.8" r="5.0"/><circle cx="1058.6" cy="1299.5" r="5.0"/><circle cx="1043.0" cy="1299.5" r="5.0"/><circle cx="1038.2" cy="1307.7" r="5.0"/><circle cx="1054.4" cy="1308.3" r="5.0"/><circle cx="1046.1" cy="1313.6" r="5.0"/></g>
<g fill="#808080"><circle cx="1139.2" cy="1048.9" r="5.0"/><circle cx="1108.5" cy="1054.6" r="5.0"/><circle cx="1123.8" cy="1059.9" r="5.0"/><circle cx="1108.5" cy="1115.7" r="5.0"/><circle cx="1123.8" cy="1125.1" r="5.0"/><circle cx="1139.2" cy="1125.1" r="5.0"/><circle cx="1116.1" cy="1135.9" r="5.0"/><circle cx="1131.5" cy="1149.8" r="5.0"/><circle cx="1106.9" cy="1152.4" r="5.0"/><circle cx="1140.7" cy="1156.4" r="5.0"/><circle cx="1115.3" cy="1158.5" r="5.0"/><circle cx="1123.8" cy="1167.3" r="5.0"/><circle cx="1131.8" cy="1167.3" r="5.0"/><circle cx="1115.9" cy="1171.9" r="5.0"/><circle cx="1131.1" cy="1173.7" r="5.0"/><circle cx="1111.8" cy="1175.9" r="5.0"/><circle cx="1136.1" cy="1179.2" r="5.0"/><circle cx="1119.5" cy="1182.5" r="5.0"/><circle cx="1127.8" cy="1184.7" r="5.0"/><circle cx="1106.9" cy="1189.3" r="5.0"/><circle cx="1141.0" cy="1193.9" r="5.0"/><circle cx="1115.1" cy="1195.7" r="5.0"/><circle cx="1132.4" cy="1199.4" r="5.0"/><circle cx="1123.8" cy="1202.5" r="5.0"/></g>
</g>
<g stroke="#000">
<line x1="145.2" y1="1154.42" x2="194.4" y2="1154.42" stroke-width="3.6"/>
<line x1="218.6" y1="1191.51" x2="267.8" y2="1191.51" stroke-width="3.6"/>
<line x1="292" y1="1180.12" x2="341.2" y2="1180.12" stroke-width="3.6"/>
<line x1="365.4" y1="1158.1" x2="414.6" y2="1158.1" stroke-width="3.6"/>
<line x1="438.8" y1="1166.36" x2="488" y2="1166.36" stroke-width="3.6"/>
<line x1="512.2" y1="1149.47" x2="561.4" y2="1149.47" stroke-width="3.6"/>
<line x1="585.6" y1="1154.42" x2="634.8" y2="1154.42" stroke-width="3.6"/>
<line x1="659" y1="1169.11" x2="708.2" y2="1169.11" stroke-width="3.6"/>
<line x1="732.4" y1="1174.98" x2="781.6" y2="1174.98" stroke-width="3.6"/>
<line x1="805.8" y1="1156.81" x2="855" y2="1156.81" stroke-width="3.6"/>
<line x1="879.2" y1="1172.41" x2="928.4" y2="1172.41" stroke-width="3.6"/>
<line x1="952.6" y1="1278.34" x2="1001.8" y2="1278.34" stroke-width="3.6"/>
<line x1="1026" y1="1288.44" x2="1075.2" y2="1288.44" stroke-width="3.6"/>
<line x1="1099.4" y1="1167.64" x2="1148.6" y2="1167.64" stroke-width="3.6"/>
</g>
<g class="ytick">
<text transform="translate(120.74 1034.58) scale(0.9231 1.0000)" font-size="28.33" text-anchor="end">3</text>
<text transform="translate(120.74 1119.83) scale(0.9231 1.0000)" font-size="28.33" text-anchor="end">2</text>
<text transform="translate(120.74 1205.08) scale(0.9231 1.0000)" font-size="28.33" text-anchor="end">1</text>
<path transform="translate(120.74 1205.08) scale(0.9231 1.0000)" d="M-15.57 -3.24H-9.14v4.24H-15.57zM-5.26 -3.24H0.81v4.24H-5.26z" fill="#fff"/>
<text transform="translate(120.74 1290.33) scale(0.9231 1.0000)" font-size="28.33" text-anchor="end">0</text>
<text transform="translate(120.74 1375.58) scale(0.9231 1.0000)" font-size="28.33" text-anchor="end">-1</text>
<path transform="translate(120.74 1375.58) scale(0.9231 1.0000)" d="M-15.57 -3.24H-9.14v4.24H-15.57zM-5.26 -3.24H0.81v4.24H-5.26z" fill="#fff"/>
</g>
<g class="xtick">
<text transform="translate(179.13 1379.67) rotate(-90) scale(0.9683 1.0000)" font-size="26.50" text-anchor="end">control</text>
<text transform="translate(252.53 1379.67) rotate(-90) scale(0.9363 1.0000)" font-size="27.40" text-anchor="end">02657</text>
<text transform="translate(325.93 1379.67) rotate(-90) scale(0.9363 1.0000)" font-size="27.40" text-anchor="end"><tspan font-size="21.51" font-weight="normal" dy="-11.78">#</tspan><tspan dy="11.78">02771</tspan></text>
<path transform="translate(325.93 1379.67) rotate(-90) scale(0.9363 1.0000)" d="M-15.11 -3.15H-8.84v4.15H-15.11zM-5.08 -3.15H0.84v4.15H-5.08z" fill="#fff"/>
<text transform="translate(399.33 1379.67) rotate(-90) scale(0.9363 1.0000)" font-size="27.40" text-anchor="end">02650</text>
<text transform="translate(472.73 1379.67) rotate(-90) scale(0.9363 1.0000)" font-size="27.40" text-anchor="end"><tspan font-size="21.51" font-weight="normal" dy="-11.78">#</tspan><tspan dy="11.78">02651</tspan></text>
<path transform="translate(472.73 1379.67) rotate(-90) scale(0.9363 1.0000)" d="M-15.11 -3.15H-8.84v4.15H-15.11zM-5.08 -3.15H0.84v4.15H-5.08z" fill="#fff"/>
<text transform="translate(546.13 1379.67) rotate(-90) scale(0.9363 1.0000)" font-size="27.40" text-anchor="end">02652</text>
<text transform="translate(619.53 1379.67) rotate(-90) scale(0.9363 1.0000)" font-size="27.40" text-anchor="end">02660</text>
<text transform="translate(692.93 1379.67) rotate(-90) scale(0.9363 1.0000)" font-size="27.40" text-anchor="end">02661</text>
<path transform="translate(692.93 1379.67) rotate(-90) scale(0.9363 1.0000)" d="M-15.11 -3.15H-8.84v4.15H-15.11zM-5.08 -3.15H0.84v4.15H-5.08z" fill="#fff"/>
<text transform="translate(766.33 1379.67) rotate(-90) scale(0.9363 1.0000)" font-size="27.40" text-anchor="end">02694</text>
<text transform="translate(839.73 1379.67) rotate(-90) scale(0.9363 1.0000)" font-size="27.40" text-anchor="end">02772</text>
<text transform="translate(913.13 1379.67) rotate(-90) scale(0.9363 1.0000)" font-size="27.40" text-anchor="end">02773</text>
<text transform="translate(986.53 1379.67) rotate(-90) scale(0.9363 1.0000)" font-size="27.40" text-anchor="end">Cj</text>
<text transform="translate(1059.93 1379.67) rotate(-90) scale(0.9363 1.0000)" font-size="27.40" text-anchor="end">DMSO</text>
<text transform="translate(1133.33 1379.67) rotate(-90) scale(0.9363 1.0000)" font-size="27.40" text-anchor="end">Ac</text>
</g>
<text transform="translate(38.82 1328.8) rotate(-90) scale(0.9633 1.0000)" font-size="29.00">Absorbance 450 nm</text>
</g>
<g id="panel-c">
<g stroke="#000">
<line x1="1393.27" y1="1283.06" x2="1960" y2="1283.06" stroke-width="3.5" stroke-linecap="round" stroke-dasharray="0 5.08"/>
<line x1="1388.2" y1="1027.3" x2="1388.2" y2="1369.45" stroke-width="3.6"/>
<line x1="1378.2" y1="1367.75" x2="1961" y2="1367.75" stroke-width="3.4"/>
<line x1="1378.2" y1="1029" x2="1388.2" y2="1029" stroke-width="3.4"/>
<line x1="1378.2" y1="1113.69" x2="1388.2" y2="1113.69" stroke-width="3.4"/>
<line x1="1378.2" y1="1198.38" x2="1388.2" y2="1198.38" stroke-width="3.4"/>
<line x1="1378.2" y1="1283.06" x2="1388.2" y2="1283.06" stroke-width="3.4"/>
<line x1="1435.6" y1="1358.25" x2="1435.6" y2="1377.25" stroke-width="3.6"/>
<line x1="1530.75" y1="1358.25" x2="1530.75" y2="1377.25" stroke-width="3.6"/>
<line x1="1625.9" y1="1358.25" x2="1625.9" y2="1377.25" stroke-width="3.6"/>
<line x1="1721.05" y1="1358.25" x2="1721.05" y2="1377.25" stroke-width="3.6"/>
<line x1="1816.2" y1="1358.25" x2="1816.2" y2="1377.25" stroke-width="3.6"/>
<line x1="1911.35" y1="1358.25" x2="1911.35" y2="1377.25" stroke-width="3.6"/>
</g>
<g stroke="#000" stroke-width="2.1">
<g fill="#808080"><circle cx="1435.6" cy="1055.3" r="5.0"/><circle cx="1443.2" cy="1119.4" r="5.0"/><circle cx="1427.9" cy="1125.1" r="5.0"/><circle cx="1459.3" cy="1133.9" r="5.0"/><circle cx="1411.8" cy="1138.9" r="5.0"/><circle cx="1447.4" cy="1142.4" r="5.0"/><circle cx="1423.7" cy="1144.2" r="5.0"/><circle cx="1435.6" cy="1145.7" r="5.0"/><circle cx="1409.4" cy="1153.4" r="5.0"/><circle cx="1461.7" cy="1153.4" r="5.0"/><circle cx="1414.9" cy="1154.8" r="5.0"/><circle cx="1456.2" cy="1155.4" r="5.0"/><circle cx="1419.5" cy="1156.7" r="5.0"/><circle cx="1425.0" cy="1159.4" r="5.0"/><circle cx="1450.7" cy="1159.4" r="5.0"/><circle cx="1444.3" cy="1162.2" r="5.0"/><circle cx="1430.5" cy="1165.5" r="5.0"/><circle cx="1440.6" cy="1165.5" r="5.0"/><circle cx="1435.6" cy="1166.2" r="5.0"/><circle cx="1412.7" cy="1176.9" r="5.0"/><circle cx="1458.6" cy="1182.9" r="5.0"/><circle cx="1427.9" cy="1186.2" r="5.0"/><circle cx="1443.2" cy="1187.3" r="5.0"/><circle cx="1435.6" cy="1227.9" r="5.0"/></g>
<g fill="#d4d4d4"><circle cx="1530.5" cy="1273.2" r="5.0"/><circle cx="1507.6" cy="1279.7" r="5.0"/><circle cx="1553.5" cy="1279.7" r="5.0"/><circle cx="1510.3" cy="1280.6" r="5.0"/><circle cx="1550.7" cy="1280.6" r="5.0"/><circle cx="1514.0" cy="1283.0" r="5.0"/><circle cx="1547.1" cy="1283.3" r="5.0"/><circle cx="1517.7" cy="1287.0" r="5.0"/><circle cx="1543.4" cy="1287.0" r="5.0"/><circle cx="1522.3" cy="1288.8" r="5.0"/><circle cx="1538.8" cy="1288.8" r="5.0"/><circle cx="1528.7" cy="1286.1" r="5.0"/><circle cx="1532.4" cy="1286.1" r="5.0"/><circle cx="1526.9" cy="1290.7" r="5.0"/><circle cx="1534.2" cy="1290.7" r="5.0"/><circle cx="1530.5" cy="1295.3" r="5.0"/></g>
<g fill="#d4d4d4"><circle cx="1602.1" cy="1273.6" r="5.0"/><circle cx="1649.9" cy="1272.3" r="5.0"/><circle cx="1641.6" cy="1277.8" r="5.0"/><circle cx="1610.0" cy="1279.3" r="5.0"/><circle cx="1618.1" cy="1280.0" r="5.0"/><circle cx="1626.0" cy="1280.6" r="5.0"/><circle cx="1633.9" cy="1279.3" r="5.0"/><circle cx="1600.3" cy="1281.5" r="5.0"/><circle cx="1651.7" cy="1284.3" r="5.0"/><circle cx="1605.8" cy="1287.0" r="5.0"/><circle cx="1646.2" cy="1286.6" r="5.0"/><circle cx="1610.4" cy="1287.9" r="5.0"/><circle cx="1640.7" cy="1287.9" r="5.0"/><circle cx="1616.8" cy="1289.8" r="5.0"/><circle cx="1635.2" cy="1290.7" r="5.0"/><circle cx="1620.5" cy="1294.4" r="5.0"/><circle cx="1631.5" cy="1295.3" r="5.0"/><circle cx="1626.0" cy="1297.1" r="5.0"/></g>
<g fill="#808080"><circle cx="1705.6" cy="1256.7" r="5.0"/><circle cx="1736.3" cy="1261.7" r="5.0"/><circle cx="1720.9" cy="1263.5" r="5.0"/><circle cx="1713.4" cy="1266.5" r="5.0"/><circle cx="1728.6" cy="1268.7" r="5.0"/><circle cx="1698.8" cy="1270.5" r="5.0"/><circle cx="1742.9" cy="1275.4" r="5.0"/><circle cx="1705.6" cy="1276.0" r="5.0"/><circle cx="1735.9" cy="1276.9" r="5.0"/><circle cx="1711.7" cy="1277.8" r="5.0"/><circle cx="1724.0" cy="1280.0" r="5.0"/><circle cx="1694.6" cy="1282.4" r="5.0"/><circle cx="1747.9" cy="1281.5" r="5.0"/><circle cx="1700.7" cy="1284.3" r="5.0"/><circle cx="1706.6" cy="1285.2" r="5.0"/><circle cx="1729.5" cy="1287.0" r="5.0"/><circle cx="1736.3" cy="1285.7" r="5.0"/><circle cx="1716.1" cy="1290.3" r="5.0"/><circle cx="1726.8" cy="1293.4" r="5.0"/><circle cx="1720.9" cy="1297.1" r="5.0"/></g>
<g fill="#808080"><circle cx="1823.7" cy="1267.7" r="5.0"/><circle cx="1800.7" cy="1276.9" r="5.0"/><circle cx="1831.4" cy="1280.6" r="5.0"/><circle cx="1808.4" cy="1284.3" r="5.0"/><circle cx="1823.7" cy="1285.2" r="5.0"/><circle cx="1791.0" cy="1286.6" r="5.0"/><circle cx="1840.9" cy="1287.9" r="5.0"/><circle cx="1800.7" cy="1288.8" r="5.0"/><circle cx="1826.8" cy="1291.6" r="5.0"/><circle cx="1808.4" cy="1294.4" r="5.0"/><circle cx="1818.2" cy="1298.4" r="5.0"/><circle cx="1832.3" cy="1301.1" r="5.0"/><circle cx="1823.7" cy="1299.9" r="5.0"/><circle cx="1808.4" cy="1300.8" r="5.0"/><circle cx="1799.8" cy="1309.0" r="5.0"/><circle cx="1821.3" cy="1309.6" r="5.0"/><circle cx="1810.6" cy="1315.1" r="5.0"/></g>
<g fill="#808080"><circle cx="1926.5" cy="1052.4" r="5.0"/><circle cx="1895.8" cy="1058.1" r="5.0"/><circle cx="1911.1" cy="1063.4" r="5.0"/><circle cx="1895.8" cy="1119.0" r="5.0"/><circle cx="1911.1" cy="1127.8" r="5.0"/><circle cx="1926.5" cy="1127.8" r="5.0"/><circle cx="1903.5" cy="1138.5" r="5.0"/><circle cx="1918.8" cy="1152.3" r="5.0"/><circle cx="1887.4" cy="1155.4" r="5.0"/><circle cx="1934.9" cy="1159.2" r="5.0"/><circle cx="1899.3" cy="1161.1" r="5.0"/><circle cx="1911.1" cy="1169.5" r="5.0"/><circle cx="1923.2" cy="1169.5" r="5.0"/><circle cx="1903.5" cy="1175.4" r="5.0"/><circle cx="1918.8" cy="1176.3" r="5.0"/><circle cx="1894.7" cy="1178.1" r="5.0"/><circle cx="1927.4" cy="1181.6" r="5.0"/><circle cx="1905.7" cy="1185.1" r="5.0"/><circle cx="1916.6" cy="1187.0" r="5.0"/><circle cx="1887.4" cy="1191.9" r="5.0"/><circle cx="1935.1" cy="1196.5" r="5.0"/><circle cx="1899.3" cy="1197.8" r="5.0"/><circle cx="1923.2" cy="1202.0" r="5.0"/><circle cx="1911.1" cy="1205.0" r="5.0"/></g>
</g>
<g stroke="#000">
<line x1="1403.95" y1="1156.67" x2="1467.25" y2="1156.67" stroke-width="3.8"/>
<line x1="1499.1" y1="1287.93" x2="1562.4" y2="1287.93" stroke-width="3.8"/>
<line x1="1594.25" y1="1284.63" x2="1657.55" y2="1284.63" stroke-width="3.8"/>
<line x1="1689.4" y1="1279.67" x2="1752.7" y2="1279.67" stroke-width="3.8"/>
<line x1="1784.55" y1="1289.77" x2="1847.85" y2="1289.77" stroke-width="3.8"/>
<line x1="1879.7" y1="1170.44" x2="1943" y2="1170.44" stroke-width="3.8"/>
</g>
<g class="ytick">
<text transform="translate(1375.1 1038.29) scale(0.8984 1.0000)" font-size="27.77" text-anchor="end">3</text>
<text transform="translate(1375.1 1122.98) scale(0.8984 1.0000)" font-size="27.77" text-anchor="end">2</text>
<text transform="translate(1375.1 1207.66) scale(0.8984 1.0000)" font-size="27.77" text-anchor="end">1</text>
<path transform="translate(1375.1 1207.66) scale(0.8984 1.0000)" d="M-15.29 -3.18H-8.96v4.18H-15.29zM-5.15 -3.18H0.83v4.18H-5.15z" fill="#fff"/>
<text transform="translate(1375.1 1292.35) scale(0.8984 1.0000)" font-size="27.77" text-anchor="end">0</text>
<text transform="translate(1375.1 1377.04) scale(0.8984 1.0000)" font-size="27.77" text-anchor="end">-1</text>
<path transform="translate(1375.1 1377.04) scale(0.8984 1.0000)" d="M-15.29 -3.18H-8.96v4.18H-15.29zM-5.15 -3.18H0.83v4.18H-5.15z" fill="#fff"/>
</g>
<g class="xtick">
<text transform="translate(1444.99 1380.47) rotate(-90) scale(0.9826 1.0000)" font-size="26.22" text-anchor="end">control</text>
<text transform="translate(1540.14 1380.47) rotate(-90) scale(0.9501 1.0000)" font-size="27.12" text-anchor="end">02686</text>
<text transform="translate(1635.29 1380.47) rotate(-90) scale(0.9501 1.0000)" font-size="27.12" text-anchor="end">02687</text>
<text transform="translate(1730.44 1380.47) rotate(-90) scale(0.9501 1.0000)" font-size="27.12" text-anchor="end">Cj</text>
<text transform="translate(1825.59 1380.47) rotate(-90) scale(0.9501 1.0000)" font-size="27.12" text-anchor="end">DMSO</text>
<text transform="translate(1920.74 1380.47) rotate(-90) scale(0.9501 1.0000)" font-size="27.12" text-anchor="end">Ac</text>
</g>
<text transform="translate(1294.42 1330.69) rotate(-90) scale(0.9743 1.0000)" font-size="28.46">Absorbance 450 nm</text>
</g>
<text transform="translate(0.52 44.3) scale(0.8931 1.0000)" font-size="50.93">a</text>
<text transform="translate(-0.48 895.21) scale(1.0338 1.0000)" font-size="50.04">b</text>
<text transform="translate(1255.96 895.2) scale(1.0100 1.0000)" font-size="50.74">c</text>
<g stroke="#000">
<path d="M165.3 151.4V83.6H873.25V150" fill="none" stroke-width="3.6" stroke-linejoin="round"/>
<line x1="197.9" y1="150.05" x2="1554.6" y2="150.05" stroke-width="3.4"/>
<path d="M163.0 1033.6V950.4H1013.7V1034" fill="none" stroke-width="3.5" stroke-linejoin="round"/>
<path d="M174.75 1033.6V993.2H276.6V1034" fill="none" stroke-width="3.5" stroke-linejoin="round"/>
<line x1="216.8" y1="1034" x2="339.6" y2="1034" stroke-width="3.4"/>
<line x1="954" y1="1034.1" x2="1077" y2="1034.1" stroke-width="3.4"/>
<path d="M1436.7 1036V971.9H1676.3V1037.6" fill="none" stroke-width="3.5" stroke-linejoin="round"/>
<line x1="1499.9" y1="1037.6" x2="1855.8" y2="1037.6" stroke-width="3.5"/>
<line x1="189.4" y1="620.45" x2="1560.2" y2="620.45" stroke-width="4.5"/>
<rect x="186.85" y="603.75" width="5.1" height="33.4" rx="1.1" fill="#000" stroke="none"/>
<rect x="241.5" y="603.75" width="5.1" height="33.4" rx="1.1" fill="#000" stroke="none"/>
<rect x="711.05" y="603.75" width="5.1" height="33.4" rx="1.1" fill="#000" stroke="none"/>
<rect x="1557.65" y="603.75" width="5.1" height="33.4" rx="1.1" fill="#000" stroke="none"/>
<line x1="201.65" y1="1485.5" x2="347.1" y2="1485.5" stroke-width="4.6"/>
<rect x="199.15" y="1469" width="5.0" height="33" rx="1.1" fill="#000" stroke="none"/>
<rect x="344.6" y="1469" width="5.0" height="33" rx="1.1" fill="#000" stroke="none"/>
<line x1="944" y1="1485.5" x2="1089.6" y2="1485.5" stroke-width="4.6"/>
<rect x="941.4" y="1469" width="5.2" height="33" rx="1.1" fill="#000" stroke="none"/>
<rect x="1087" y="1469" width="5.2" height="33" rx="1.1" fill="#000" stroke="none"/>
<line x1="1478.25" y1="1483.85" x2="1868" y2="1483.85" stroke-width="5.0"/>
<rect x="1475.8" y="1467.75" width="4.9" height="32.2" rx="1.1" fill="#000" stroke="none"/>
<rect x="1865.55" y="1467.75" width="4.9" height="32.2" rx="1.1" fill="#000" stroke="none"/>
</g>
<text transform="translate(480.08 86.87) scale(1.0489 1.0000)" font-size="40.58">*</text>
<text transform="translate(581.89 954.63) scale(0.9820 1.0000)" font-size="39.91">*</text>
<text transform="translate(218.28 996.53) scale(1.0015 1.0000)" font-size="39.91">*</text>
<text transform="translate(1541.89 975.82) scale(0.9658 1.0000)" font-size="40.58">*</text>
<text transform="translate(211.39 667.9) scale(1.1006 1.0000)" font-size="36.05" font-weight="normal">I</text>
<text transform="translate(469.92 667.9) scale(1.1064 1.0000)" font-size="36.05" font-weight="normal">II</text>
<text transform="translate(1067.37 667.9) scale(1.1072 1.0000)" font-size="36.05" font-weight="normal">III</text>
<text transform="translate(268.64 1529.1) scale(1.1112 1.0000)" font-size="34.74" font-weight="normal">I</text>
<text transform="translate(1001.57 1529.1) scale(1.1001 1.0000)" font-size="34.74" font-weight="normal">III</text>
<text transform="translate(1650.07 1529.7) scale(1.1333 1.0000)" font-size="33.72" font-weight="normal">III</text>
<text transform="translate(751.16 739.81) scale(1.0579 1.0000)" font-size="39.76" font-style="italic">A. butzleri</text>
<text transform="translate(486.45 1605.1) scale(1.0322 1.0000)" font-size="40.02" font-style="italic">A. cryaerophilus</text>
<text transform="translate(1568.97 1605.11) scale(1.0771 1.0000)" font-size="39.49" font-style="italic">A. lanthieri</text>
</svg>
</body>
</html>
